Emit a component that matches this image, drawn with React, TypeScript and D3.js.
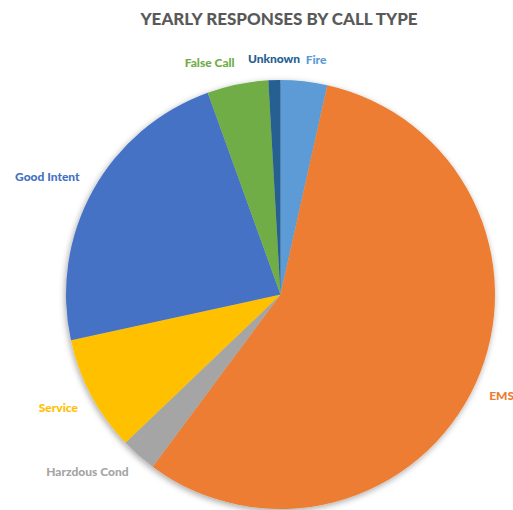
import React from "react";
import * as d3 from "d3";

const categories = ["Fire", "EMS", "Harzdous Cond", "Service", "Good Intent", "False Call", "Unknown"];
const values = [3.5, 56.6, 2.7, 8.7, 22.9, 4.6, 0.9];
const colors = ["#5B9BD5", "#ED7D31", "#A5A5A5", "#FFC000", "#4472C4", "#70AD47", "#255E91"];
const title = "YEARLY RESPONSES BY CALL TYPE";

const W = 513;
const H = 510;
const cx = 280.5;
const cy = 294.5;
const R = 214.5;

export default function App() {
  const data = categories.map((c, i) => ({ c, v: values[i], col: colors[i] }));
  const pie = d3.pie<any>().sort(null).value((d) => d.v);
  const arcs = pie(data);
  const arc = d3.arc<any>().innerRadius(0).outerRadius(R);
  const font = "Lato, 'Open Sans', sans-serif";
  return (
    <svg width={W} height={H} style={{ position: "absolute", left: 0, top: 0, background: "#fff" }}>
      <defs>
        <filter id="sh" x="-20%" y="-20%" width="140%" height="140%">
          <feDropShadow dx="-1" dy="2" stdDeviation="3" floodColor="#000" floodOpacity="0.35" />
        </filter>
      </defs>
      <text x={279} y={25} textAnchor="middle" fontFamily={font} fontWeight={900} fontSize={17} fill="#595959">
        {title}
      </text>
      <g transform={`translate(${cx},${cy})`} filter="url(#sh)">
        {arcs.map((a, i) => (
          <path key={i} d={arc(a) as string} fill={a.data.col} />
        ))}
      </g>
      <g transform={`translate(${cx},${cy})`}>
        {arcs.map((a, i) => {
          const mid = (a.startAngle + a.endAngle) / 2;
          const r = R + 15;
          const s = Math.sin(mid);
          const c = Math.cos(mid);
          const x = r * s;
          const y = -r * c;
          const anchor = s > 0.1 ? "start" : s < -0.1 ? "end" : "middle";
          const dy = c > 0 ? "-0.2em" : "0.8em";
          return (
            <text key={i} x={x} y={y} dy={dy} textAnchor={anchor} fontFamily={font} fontWeight={900} fontSize={12} fill={a.data.col}>
              {a.data.c}
            </text>
          );
        })}
      </g>
    </svg>
  );
}
